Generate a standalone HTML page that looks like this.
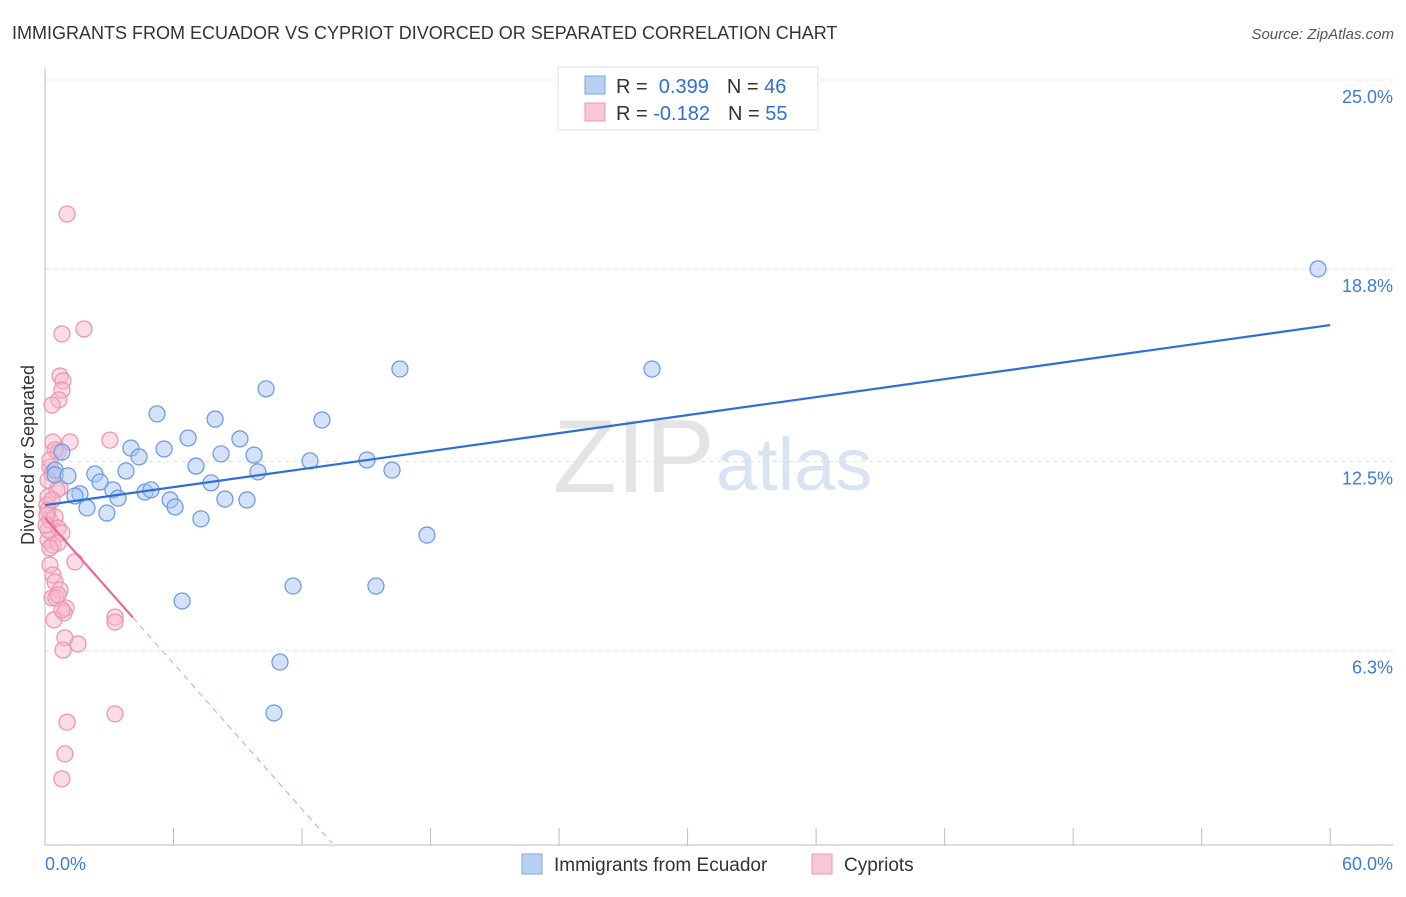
<!DOCTYPE html>
<html><head><meta charset="utf-8"><style>
body{margin:0;background:#fff;font-family:"Liberation Sans",sans-serif;}
svg text{font-family:"Liberation Sans",sans-serif;}
</style></head><body>
<svg id="c" width="1406" height="892" xmlns="http://www.w3.org/2000/svg">
<text x="12" y="39" font-size="18" fill="#333">IMMIGRANTS FROM ECUADOR VS CYPRIOT DIVORCED OR SEPARATED CORRELATION CHART</text>
<text x="1394" y="39" font-size="15" fill="#555" font-style="italic" text-anchor="end">Source: ZipAtlas.com</text>
<text x="553" y="492" font-size="104" fill="#e4e4e4" font-family="Liberation Serif">ZIP</text>
<text x="716" y="490" font-size="74" fill="#d8e4f4">atlas</text>
<text transform="translate(34,455) rotate(-90)" font-size="18" fill="#333" text-anchor="middle">Divorced or Separated</text>
<g id="grid"></g><g id="axes"></g><g id="marks"></g>
<g>
<rect x="558" y="67" width="260" height="63" fill="#fff" stroke="#ddd"/>
<rect x="585" y="76" width="20" height="18" fill="#b8d0f4" stroke="#7fa6e0"/>
<rect x="585" y="103" width="20" height="18" fill="#f9c6d6" stroke="#eb97b0"/>
<text x="616" y="93" font-size="20" fill="#333">R = <tspan fill="#2f6fd3">&#160;0.399</tspan><tspan dx="18">N = </tspan><tspan fill="#2f6fd3">46</tspan></text>
<text x="616" y="120" font-size="20" fill="#333">R = <tspan fill="#2f6fd3">-0.182</tspan><tspan dx="18">N = </tspan><tspan fill="#2f6fd3">55</tspan></text>
</g>
<g>
<rect x="522" y="854" width="20" height="20" fill="#b8d0f4" stroke="#7fa6e0"/>
<text x="554" y="871" font-size="19" fill="#333">Immigrants from Ecuador</text>
<rect x="812" y="854" width="20" height="20" fill="#f9c6d6" stroke="#eb97b0"/>
<text x="844" y="871" font-size="19" fill="#333">Cypriots</text>
</g>
</svg>
<script>
const yTicks=[6.3,12.5,18.8,25.0];
const yTickLabels=["6.3%","12.5%","18.8%","25.0%"];
const xTickCount=10;
const blueX=[0.47,0.47,1.07,0.79,2.33,2.57,1.63,1.40,1.96,2.89,3.17,3.41,3.78,4.01,4.39,4.67,4.95,5.23,5.56,5.84,6.07,6.40,6.68,7.05,7.28,7.75,7.94,8.22,8.40,9.10,9.43,9.76,9.94,10.69,10.97,11.58,12.37,12.93,15.03,15.45,16.20,16.57,17.83,28.34,59.43,10.32];
const blueY=[12.22,12.06,12.03,12.81,12.09,11.83,11.44,11.37,10.98,10.81,11.57,11.30,12.19,12.94,12.65,11.50,11.57,14.06,12.91,11.24,11.01,7.93,13.27,12.35,10.62,11.80,13.89,12.75,11.27,13.24,11.24,12.71,12.16,4.26,5.93,8.42,12.52,13.86,12.55,8.42,12.22,15.53,10.09,15.53,18.81,14.88];
const pinkX=[1.03,0.79,1.82,0.70,0.84,0.79,0.65,0.33,0.37,1.17,3.03,0.61,0.23,0.33,0.70,0.14,0.09,0.14,0.23,0.47,0.61,0.79,0.14,0.37,0.61,1.40,0.23,0.37,0.47,0.70,0.33,0.51,0.98,0.89,0.42,3.27,3.27,0.93,1.54,0.84,1.03,3.27,0.93,0.79,0.23,0.14,0.09,0.56,0.14,0.33,0.47,0.23,0.05,0.61,0.79];
const pinkY=[20.61,16.68,16.84,15.30,15.14,14.84,14.52,14.35,13.14,13.14,13.20,12.81,12.32,12.09,11.63,11.34,11.07,10.91,10.58,10.68,10.32,10.16,9.93,9.76,9.83,9.21,9.11,8.78,8.55,8.29,8.03,8.03,7.70,7.54,7.31,7.40,7.24,6.72,6.52,6.32,3.96,4.23,2.92,2.10,9.67,10.26,10.75,11.57,11.89,11.24,12.88,12.55,10.42,8.13,7.64];
const blueTrend=[11.07,16.97];
const pinkTrend=[10.65,-0.795];
const NS="http://www.w3.org/2000/svg";
const X=v=>45+v*21.42, Y=v=>843-v*30.52;
function mk(t,a,p){const e=document.createElementNS(NS,t);for(const k in a)e.setAttribute(k,a[k]);document.getElementById(p).appendChild(e);return e;}
yTicks.forEach((t,i)=>{
 const g=mk('line',{x1:45,x2:1393,y1:Y(t),y2:Y(t),stroke:'#e2e2e2','stroke-dasharray':'4,4'},'grid');
 
 
 const l=mk('text',{x:1393,y:Y(t)+23,'font-size':18,fill:'#3d7bd8','text-anchor':'end'},'axes');
 l.textContent=yTickLabels[i];
 
 
});
const ax=mk('line',{x1:45,x2:1393,y1:845,y2:845,stroke:'#bbb'},'axes');


const ay=mk('line',{x1:45,x2:45,y1:68,y2:845,stroke:'#bbb'},'axes');


for(let i=1;i<=xTickCount;i++){const t=mk('line',{x1:X(i*6),x2:X(i*6),y1:828,y2:845,stroke:'#bbb'},'axes');
 
 }
[[ "0.0%",45,'start'],["60.0%",1393,'end']].forEach(d=>{const t=mk('text',{x:d[1],y:870,'font-size':18,fill:'#3d7bd8','text-anchor':d[2]},'axes');t.textContent=d[0];
 
 });
pinkX.forEach((x,i)=>{const c=mk('circle',{cx:X(x),cy:Y(pinkY[i]),r:8,fill:'rgba(249,180,202,0.45)',stroke:'#eb97b0','stroke-width':1.3},'marks');
 
 });
blueX.forEach((x,i)=>{const c=mk('circle',{cx:X(x),cy:Y(blueY[i]),r:8,fill:'rgba(168,198,242,0.5)',stroke:'#6f9de0','stroke-width':1.3},'marks');
 
 });
const bl=mk('line',{x1:X(0),y1:Y(blueTrend[0]),x2:X(60),y2:Y(blueTrend[1]),stroke:'#2d6fd6','stroke-width':2.2},'marks');


const pe=4.1, pz=-pinkTrend[0]/pinkTrend[1];
const pl=mk('line',{x1:X(0),y1:Y(pinkTrend[0]),x2:X(pe),y2:Y(pinkTrend[0]+pinkTrend[1]*pe),stroke:'#e86a92','stroke-width':2.2},'marks');


const pd=mk('line',{x1:X(pe),y1:Y(pinkTrend[0]+pinkTrend[1]*pe),x2:X(pz),y2:Y(0),stroke:'#eb97b0','stroke-width':1,'stroke-dasharray':'6,5'},'marks');


</script>
</body></html>
